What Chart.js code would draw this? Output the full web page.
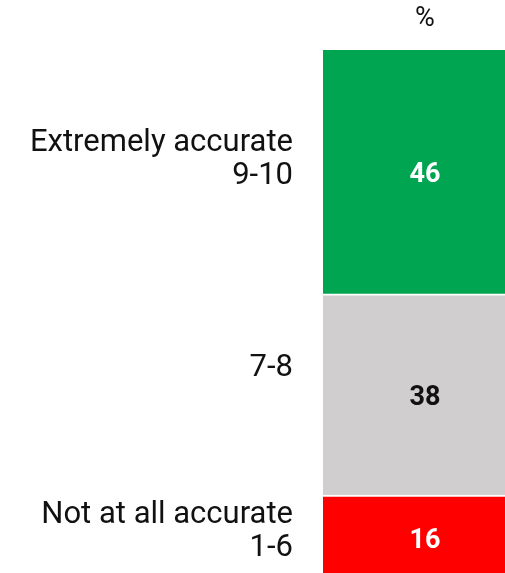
<!DOCTYPE html>
<html>
<head>
<meta charset="utf-8">
<script src="https://cdn.jsdelivr.net/npm/chart.js@4/dist/chart.umd.min.js"></script>
<style>
  html, body { margin: 0; padding: 0; background: #fff; overflow: hidden; }
  #wrap { position: relative; width: 530px; height: 590px; }
</style>
</head>
<body>
<div id="wrap"><canvas id="chart"></canvas></div>
<script>
// bottom-up stacking order
const categories = ["Not at all accurate\n1-6", "7-8", "Extremely accurate\n9-10"];
const values = [16, 38, 46];
const colors = ["#ff0000", "#d0cecf", "#00a551"];
const valueColors = ["#ffffff", "#111111", "#ffffff"];
const unitLabel = "%";

const UI_FONT = "Roboto, 'Noto Sans', sans-serif";
// small vertical nudges for the left labels (px), same order as categories
const labelNudge = [-6, -26, -12];

const labelsPlugin = {
  id: "segmentLabels",
  afterDatasetsDraw(chart) {
    const ctx = chart.ctx;
    ctx.save();
    chart.data.datasets.forEach((ds, i) => {
      const bar = chart.getDatasetMeta(i).data[0];
      if (!bar) return;
      const top = Math.min(bar.y, bar.base);
      const bottom = Math.max(bar.y, bar.base);
      const mid = (top + bottom) / 2;

      // value inside the bar
      ctx.font = "bold 27px " + UI_FONT;
      ctx.fillStyle = valueColors[i];
      ctx.textAlign = "center";
      ctx.textBaseline = "alphabetic";
      ctx.fillText(String(values[i]), bar.x, mid + 10);

      // category on the left
      const lines = categories[i].split("\n");
      const lh = 33;
      ctx.font = "31px " + UI_FONT;
      ctx.fillStyle = "#111111";
      ctx.textAlign = "right";
      ctx.textBaseline = "middle";
      const startY = mid + labelNudge[i] - ((lines.length - 1) * lh) / 2;
      lines.forEach((ln, k) => {
        ctx.fillText(ln, chart.chartArea.left - 30, startY + k * lh);
      });
    });

    // unit header above the bar
    const first = chart.getDatasetMeta(0).data[0];
    ctx.font = "27px " + UI_FONT;
    ctx.fillStyle = "#111111";
    ctx.textAlign = "center";
    ctx.textBaseline = "middle";
    ctx.fillText(unitLabel, first.x, 19);
    ctx.restore();
  }
};

new Chart(document.getElementById("chart"), {
  type: "bar",
  data: {
    labels: [""],
    datasets: values.map((v, i) => ({
      label: categories[i],
      data: [v],
      backgroundColor: colors[i],
      borderColor: "#ffffff",
      borderWidth: i < values.length - 1 ? { top: 2, right: 0, bottom: 0, left: 0 } : 0,
      borderSkipped: false,
      barPercentage: 1,
      categoryPercentage: 1
    }))
  },
  options: {
    responsive: true,
    maintainAspectRatio: false,
    animation: false,
    layout: { padding: { left: 323, right: 3, top: 50, bottom: 10 } },
    plugins: { legend: { display: false }, tooltip: { enabled: false } },
    scales: {
      x: { stacked: true, display: false },
      y: { stacked: true, display: false, min: 0, max: 100 }
    }
  },
  plugins: [labelsPlugin]
});
</script>
</body>
</html>
